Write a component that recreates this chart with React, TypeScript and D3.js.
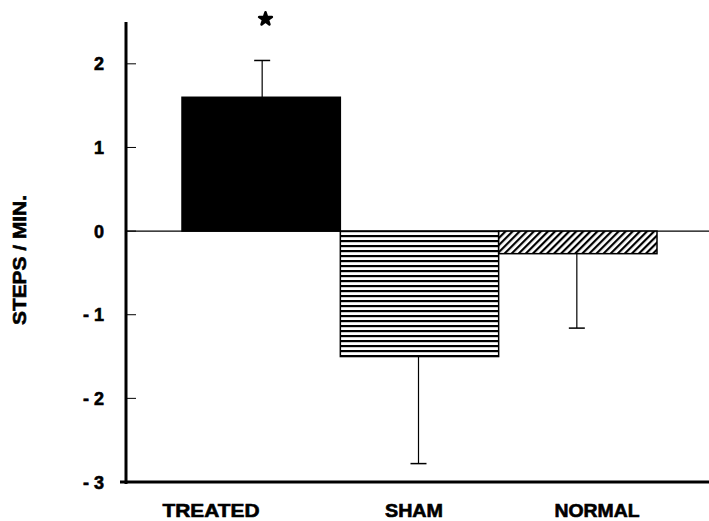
import React from 'react';
import * as d3 from 'd3';

const groups = ['TREATED', 'SHAM', 'NORMAL'];
const means = [1.6, -1.5, -0.27];
const errors = [0.44, 1.28, 0.89];
const yTicks = [-3, -2, -1, 0, 1, 2];

const W = 709;
const H = 521;

const App = () => {
  const x = d3.scaleBand().domain(groups).range([182, 657]).padding(0);
  const y = d3.scaleLinear().domain([-3, 2.5]).range([482, 22]);
  const axisX = 126;
  const font = '"Liberation Sans", Arial, sans-serif';
  const fills = ['#000', 'url(#hstripe)', 'url(#diag)'];
  // label centres sit a bit off the bar centres in the original
  const labelCx = [211, 414, 597];
  const labelLen = [97, 58, 85];

  const fmt = (v: number) => (v < 0 ? `- ${Math.abs(v)}` : `${v}`);
  const star = d3.symbol().type(d3.symbolStar).size(50)();

  return (
    <svg width={W} height={H} style={{ display: 'block', position: 'absolute', left: 0, top: 0 }}>
      <defs>
        <pattern id="hstripe" width="6" height="5" patternUnits="userSpaceOnUse">
          <rect width="6" height="5" fill="#fff" />
          <rect y="0" width="6" height="2.2" fill="#000" />
        </pattern>
        <pattern id="diag" width="5" height="5" patternUnits="userSpaceOnUse" patternTransform="rotate(45)">
          <rect width="5" height="5" fill="#fff" />
          <rect width="2.2" height="5" fill="#000" />
        </pattern>
      </defs>
      <rect width={W} height={H} fill="#fff" />

      {/* zero line */}
      <line x1={axisX} x2={W} y1={y(0)} y2={y(0)} stroke="#000" strokeWidth={1.2} />

      {groups.map((g, i) => {
        const v = means[i];
        const x0 = x(g) as number;
        const cx = x0 + x.bandwidth() / 2 + (i === 0 ? 1 : -1);
        const top = y(Math.max(0, v));
        const h = Math.abs(y(v) - y(0));
        const end = v >= 0 ? v + errors[i] : v - errors[i];
        return (
          <g key={g}>
            <line x1={cx} x2={cx} y1={y(v)} y2={y(end)} stroke="#000" strokeWidth={1.2} />
            <line x1={cx - 8} x2={cx + 8} y1={y(end)} y2={y(end)} stroke="#000" strokeWidth={1.5} />
            <rect x={x0} y={top} width={x.bandwidth()} height={h} fill={fills[i]} stroke="#000" strokeWidth={1.5} />
            <text
              x={labelCx[i]}
              y={517}
              textAnchor="middle"
              fontFamily={font}
              fontWeight="bold"
              fontSize={18}
              stroke="#000"
              strokeWidth={0.6}
              textLength={labelLen[i]}
              lengthAdjust="spacingAndGlyphs"
            >
              {g}
            </text>
          </g>
        );
      })}

      {/* significance marker */}
      <path d={star as string} transform="translate(265.5,19)" fill="#000" stroke="#000" strokeWidth={2.6} strokeLinejoin="round" />

      {/* axes */}
      <line x1={axisX} x2={axisX} y1={22} y2={484} stroke="#000" strokeWidth={3} />
      <line x1={120} x2={W} y1={482} y2={482} stroke="#000" strokeWidth={3} />
      {yTicks.map((t) => (
        <g key={t}>
          {t > -3 && <line x1={axisX} x2={axisX + 10} y1={y(t)} y2={y(t)} stroke="#000" strokeWidth={1} />}
          <text
            x={104}
            y={y(t) + 6.5}
            textAnchor="end"
            fontFamily={font}
            fontWeight="bold"
            fontSize={18}
            stroke="#000"
            strokeWidth={0.6}
          >
            {fmt(t)}
          </text>
        </g>
      ))}

      <text
        transform={`translate(26,260) rotate(-90)`}
        textAnchor="middle"
        fontFamily={font}
        fontWeight="bold"
        fontSize={19}
        stroke="#000"
        strokeWidth={0.6}
        textLength={130}
        lengthAdjust="spacingAndGlyphs"
      >
        STEPS / MIN.
      </text>
    </svg>
  );
};

export default App;
